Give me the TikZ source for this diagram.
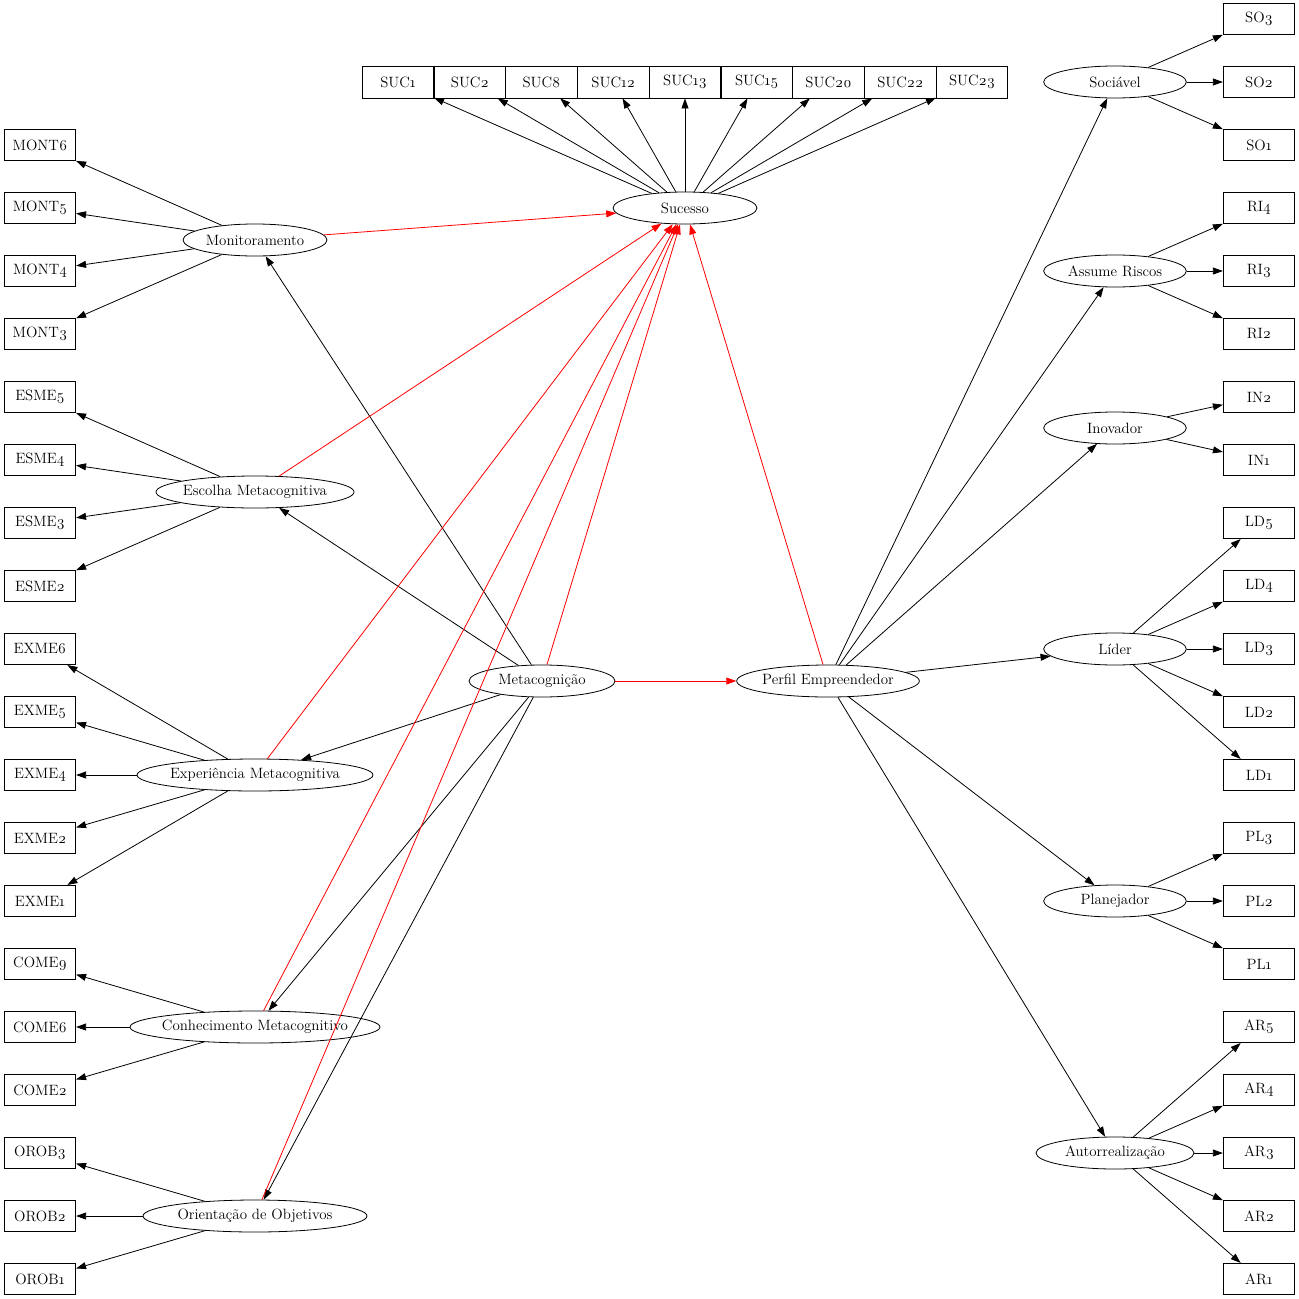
\documentclass[tikz,border=0pt]{standalone}
\usepackage{fontspec}
\setmainfont{Latin Modern Roman}[Numbers=OldStyle]
\usetikzlibrary{shapes.geometric,arrows.meta}
\newcommand{\osn}[1]{#1}
\begin{document}
\begin{tikzpicture}[x=0.75pt,y=-0.75pt,
  every node/.style={font=\fontsize{11.2}{13}\selectfont},
  box/.style={draw,line width=0.6pt,rectangle,minimum width=53.5pt,minimum height=23.5pt,inner sep=0pt},
  lat/.style={draw,line width=0.6pt,ellipse,minimum height=24pt,inner xsep=-30pt,inner ysep=0pt},
  edge/.style={line width=0.6pt,-{Triangle[length=7.5pt,width=5.2pt]}},
  redge/.style={edge,red}]
\useasboundingbox (0,0) rectangle (1299,1299);
% top boxes
\foreach \n/\t [count=\i from 0] in {s1/1,s2/2,s8/8,s12/12,s13/13,s15/15,s20/20,s22/22,s23/23}
  \node[box,minimum height=24pt] (\n) at (398+\i*71.75,82) {SUC\osn{\t}};
% left boxes
\node[box] (mont6) at (40,145) {MONT\osn{6}};
\node[box] (mont5) at (40,208) {MONT\osn{5}};
\node[box] (mont4) at (40,271) {MONT\osn{4}};
\node[box] (mont3) at (40,334) {MONT\osn{3}};
\node[box] (esme5) at (40,397) {ESME\osn{5}};
\node[box] (esme4) at (40,460) {ESME\osn{4}};
\node[box] (esme3) at (40,523) {ESME\osn{3}};
\node[box] (esme2) at (40,586) {ESME\osn{2}};
\node[box] (exme6) at (40,649) {EXME\osn{6}};
\node[box] (exme5) at (40,712) {EXME\osn{5}};
\node[box] (exme4) at (40,775) {EXME\osn{4}};
\node[box] (exme2) at (40,838) {EXME\osn{2}};
\node[box] (exme1) at (40,901) {EXME\osn{1}};
\node[box] (come9) at (40,964) {COME\osn{9}};
\node[box] (come6) at (40,1027) {COME\osn{6}};
\node[box] (come2) at (40,1090) {COME\osn{2}};
\node[box] (orob3) at (40,1153) {OROB\osn{3}};
\node[box] (orob2) at (40,1216) {OROB\osn{2}};
\node[box] (orob1) at (40,1279) {OROB\osn{1}};
% right boxes
\node[box] (so3) at (1259,19) {SO\osn{3}};
\node[box] (so2) at (1259,82) {SO\osn{2}};
\node[box] (so1) at (1259,145) {SO\osn{1}};
\node[box] (ri4) at (1259,208) {RI\osn{4}};
\node[box] (ri3) at (1259,271) {RI\osn{3}};
\node[box] (ri2) at (1259,334) {RI\osn{2}};
\node[box] (in2) at (1259,397) {IN\osn{2}};
\node[box] (in1) at (1259,460) {IN\osn{1}};
\node[box] (ld5) at (1259,523) {LD\osn{5}};
\node[box] (ld4) at (1259,586) {LD\osn{4}};
\node[box] (ld3) at (1259,649) {LD\osn{3}};
\node[box] (ld2) at (1259,712) {LD\osn{2}};
\node[box] (ld1) at (1259,775) {LD\osn{1}};
\node[box] (pl3) at (1259,838) {PL\osn{3}};
\node[box] (pl2) at (1259,901) {PL\osn{2}};
\node[box] (pl1) at (1259,964) {PL\osn{1}};
\node[box] (ar5) at (1259,1027) {AR\osn{5}};
\node[box] (ar4) at (1259,1090) {AR\osn{4}};
\node[box] (ar3) at (1259,1153) {AR\osn{3}};
\node[box] (ar2) at (1259,1216) {AR\osn{2}};
\node[box] (ar1) at (1259,1279) {AR\osn{1}};
% latent ellipses
\node[lat,minimum width=108pt] (suc) at (685,208) {Sucesso};
\node[lat,minimum width=108pt] (mon) at (255,240) {Monitoramento};
\node[lat,minimum width=148.5pt] (esc) at (255,492) {Escolha Metacognitiva};
\node[lat,minimum width=177pt] (exp) at (255,775) {Experiência Metacognitiva};
\node[lat,minimum width=187.5pt] (con) at (255,1027) {Conhecimento Metacognitivo};
\node[lat,minimum width=168pt] (ori) at (255,1216) {Orientação de Objetivos};
\node[lat,minimum width=109.5pt] (met) at (542,681) {Metacognição};
\node[lat,minimum width=137pt] (per) at (828,681) {Perfil Empreendedor};
\node[lat,minimum width=107pt] (soc) at (1115,82) {Sociável};
\node[lat,minimum width=107pt] (ris) at (1115,271) {Assume Riscos};
\node[lat,minimum width=107pt] (ino) at (1115,428) {Inovador};
\node[lat,minimum width=107pt] (lid) at (1115,649) {Líder};
\node[lat,minimum width=107pt] (pla) at (1115,901) {Planejador};
\node[lat,minimum width=118.5pt] (aut) at (1115,1153) {Autorrealização};
% edges
\foreach \n in {s1,s2,s8,s12,s13,s15,s20,s22,s23} \draw[edge] (suc) -- (\n);
\foreach \n in {mont6,mont5,mont4,mont3} \draw[edge] (mon) -- (\n);
\foreach \n in {esme5,esme4,esme3,esme2} \draw[edge] (esc) -- (\n);
\foreach \n in {exme6,exme5,exme4,exme2,exme1} \draw[edge] (exp) -- (\n);
\foreach \n in {come9,come6,come2} \draw[edge] (con) -- (\n);
\foreach \n in {orob3,orob2,orob1} \draw[edge] (ori) -- (\n);
\foreach \n in {so3,so2,so1} \draw[edge] (soc) -- (\n);
\foreach \n in {ri4,ri3,ri2} \draw[edge] (ris) -- (\n);
\foreach \n in {in2,in1} \draw[edge] (ino) -- (\n);
\foreach \n in {ld5,ld4,ld3,ld2,ld1} \draw[edge] (lid) -- (\n);
\foreach \n in {pl3,pl2,pl1} \draw[edge] (pla) -- (\n);
\foreach \n in {ar5,ar4,ar3,ar2,ar1} \draw[edge] (aut) -- (\n);
\foreach \n in {mon,esc,exp,con,ori} \draw[edge] (met) -- (\n);
\foreach \n in {soc,ris,ino,lid,pla,aut} \draw[edge] (per) -- (\n);
\foreach \n in {mon,esc,exp,con,ori,met,per} \draw[redge] (\n) -- (suc);
\draw[redge] (met) -- (per);
\end{tikzpicture}
\end{document}
